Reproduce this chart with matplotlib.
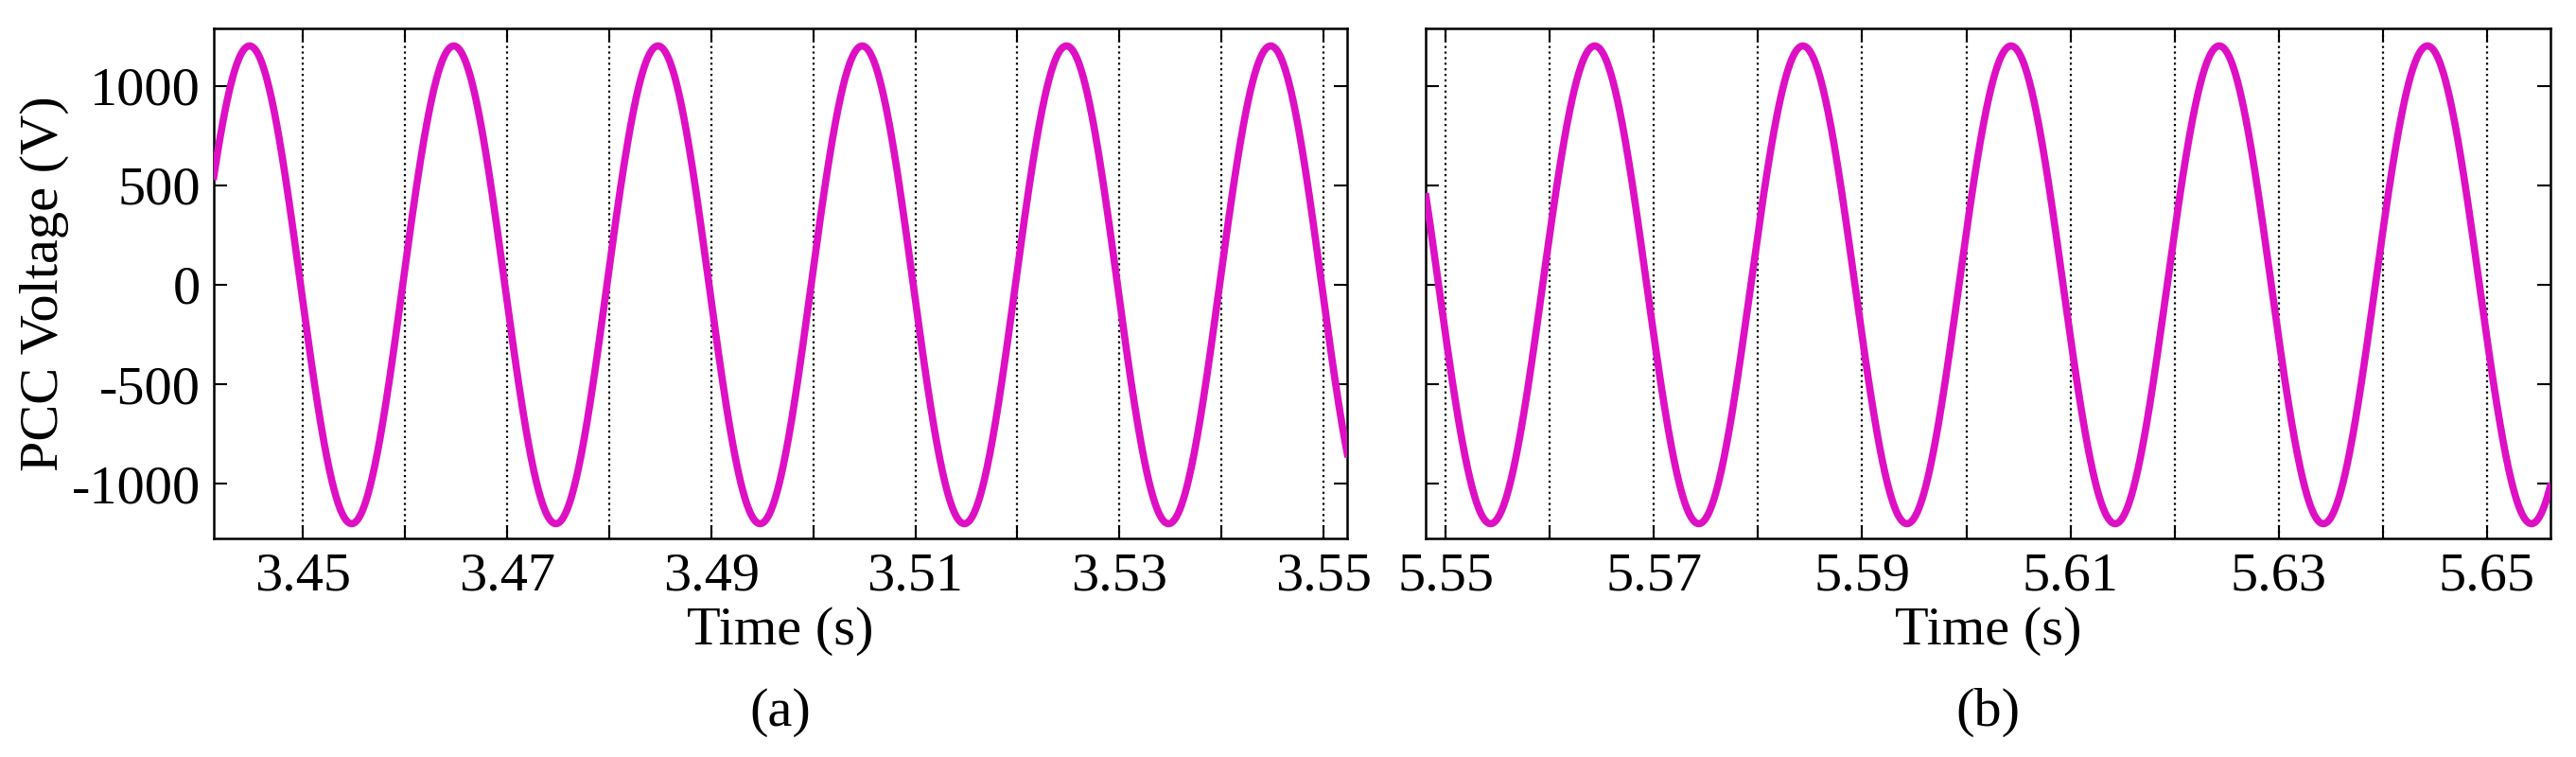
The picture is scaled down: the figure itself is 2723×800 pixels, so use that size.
import numpy as np
import matplotlib
matplotlib.use("Agg")
import matplotlib.pyplot as plt

plt.rcParams['font.family'] = ['Liberation Serif', 'DejaVu Serif']

# Data parameters
amplitude = 1200.0          # V
frequency = 50.0            # Hz
xlim_a = [3.4413, 3.5523]
peak_a = 3.4448             # time of a positive peak
xlim_b = [5.5481, 5.6561]
peak_b = 5.5643
yticks = [-1000, -500, 0, 500, 1000]
xticks_a = [3.45, 3.47, 3.49, 3.51, 3.53, 3.55]
xticks_b = [5.55, 5.57, 5.59, 5.61, 5.63, 5.65]
grid_a = np.round(np.arange(3.45, 3.5501, 0.01), 2)
grid_b = np.round(np.arange(5.55, 5.6501, 0.01), 2)
color = '#DD10C4'

fig = plt.figure(figsize=(27.23, 8), dpi=100)
axa = fig.add_axes([0.083, 0.2885, 0.440, 0.6745])
axb = fig.add_axes([0.5536, 0.2885, 0.4364, 0.6745])

for ax, xl, pk, xt, gr, lab in [(axa, xlim_a, peak_a, xticks_a, grid_a, '(a)'),
                                 (axb, xlim_b, peak_b, xticks_b, grid_b, '(b)')]:
    t = np.linspace(xl[0], xl[1], 3000)
    v = amplitude * np.cos(2 * np.pi * frequency * (t - pk))
    for g in gr:
        ax.axvline(g, color='black', ls=':', lw=1.6, zorder=1)
    ax.plot(t, v, color=color, lw=5.5, zorder=3)
    ax.set_xlim(xl)
    ax.set_ylim(-1275, 1290)
    ax.set_xticks(gr, minor=True)
    ax.set_xticks(xt)
    ax.set_xticklabels([f'{x:.2f}' for x in xt])
    ax.set_yticks(yticks)
    ax.tick_params(direction='in', which='both', top=True, right=True,
                   labelsize=42, length=10, width=1.5, pad=10)
    for s in ax.spines.values():
        s.set_linewidth(1.8)
    ax.set_xlabel('Time (s)', fontsize=42, labelpad=4)
    ax.text(0.5, -0.34, lab, transform=ax.transAxes, ha='center', va='center',
            fontsize=42)

axa.set_yticklabels([str(y) for y in yticks])
axb.set_yticklabels([])
axa.set_ylabel('PCC Voltage (V)', fontsize=42, labelpad=2)

fig.savefig('out.png', dpi=100)
